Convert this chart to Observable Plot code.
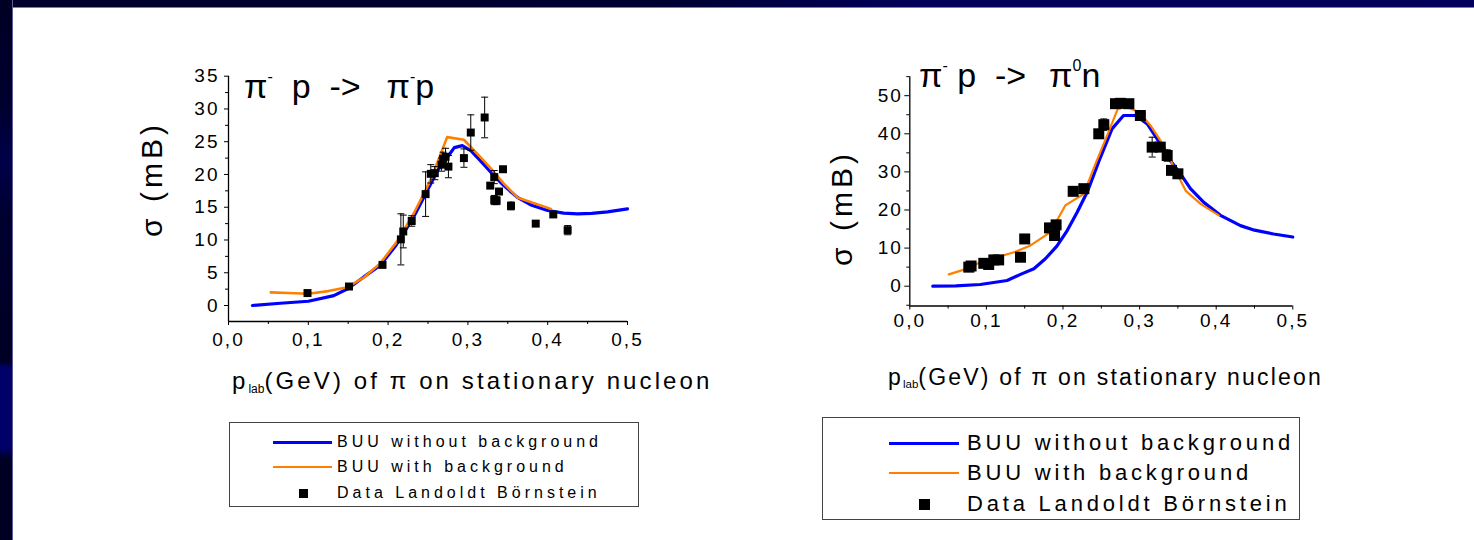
<!DOCTYPE html>
<html><head><meta charset="utf-8">
<script src="https://cdn.jsdelivr.net/npm/d3@7"></script>
<script src="https://cdn.jsdelivr.net/npm/@observablehq/plot@0.6"></script>
<style>
body{margin:0;background:#fff;}
#page{position:relative;width:1474px;height:540px;overflow:hidden;background:#fff;font-family:"Liberation Sans",Arial,sans-serif;color:#000;}
.topband{position:absolute;left:0;top:0;width:1474px;height:7px;background:linear-gradient(to right,#00002a 0%,#000032 45%,#00005a 62%,#00005c 100%);border-bottom:1px solid #7a7ab0;}
.leftband{position:absolute;left:0;top:0;width:12px;height:540px;background:linear-gradient(to bottom,#000024 0%,#000030 20%,#00004a 30%,#000030 40%,#000026 60%,#000026 67%,#000068 68%,#000068 83%,#000024 85%,#000022 100%);border-right:1px solid #5c5c94;}
.ylab{position:absolute;transform:translate(-50%,-50%) rotate(-90deg);white-space:nowrap;font-size:30px;letter-spacing:4px;line-height:1;}
.title{position:absolute;white-space:pre;font-size:34px;line-height:1;}
.title sup{font-size:16px;vertical-align:0;position:relative;top:-16px;}
.xlab{position:absolute;white-space:pre;line-height:1;}
.xlab sub{font-size:0.5em;vertical-align:0;position:relative;top:0.3em;letter-spacing:0;}
.legend{position:absolute;border:1px solid #444;background:#fff;}
.sw{position:absolute;}
.lt{position:absolute;white-space:pre;line-height:1;transform:translateY(-50%);}
</style>
</head><body><div id="page">
<div class="topband"></div><div class="leftband"></div>
</div>
<script>
// ---------- data ----------
const xTicks = [0, 0.1, 0.2, 0.3, 0.4, 0.5];
const xMinorTicks = [0.05, 0.15, 0.25, 0.35, 0.45];

// Left panel: pi- p -> pi- p
const leftYTicks = [0, 5, 10, 15, 20, 25, 30, 35];
const leftYMinor = [2.5, 7.5, 12.5, 17.5, 22.5, 27.5, 32.5];
const leftBlueX = [0.03,0.065,0.10,0.132,0.15,0.17,0.19,0.21,0.232,0.249,0.262,0.274,0.283,0.293,0.304,0.315,0.329,0.345,0.362,0.38,0.40,0.42,0.4375,0.455,0.475,0.50];
const leftBlueY = [0,0.35,0.65,1.5,2.6,4.4,6.1,9.2,13.5,17.5,20.6,22.6,24.1,24.4,23.6,22.2,20.3,18.3,16.5,15.3,14.5,14.1,14.0,14.05,14.3,14.75];
const leftOrangeX = [0.053,0.075,0.10,0.125,0.149,0.17,0.19,0.212,0.232,0.253,0.274,0.295,0.316,0.329,0.345,0.362,0.383,0.404];
const leftOrangeY = [2.0,1.9,1.8,2.2,2.8,4.3,6.4,9.9,14.0,19.1,25.7,25.3,22.6,20.9,18.6,16.5,15.6,14.75];
const leftDataX = [0.099,0.151,0.193,0.216,0.219,0.2296,0.247,0.2535,0.2585,0.267,0.269,0.272,0.2756,0.295,0.3036,0.321,0.328,0.333,0.333,0.336,0.339,0.344,0.354,0.385,0.407,0.425];
const leftDataY = [1.9,2.9,6.2,10.1,11.3,12.9,17.0,20.1,20.2,21.5,22.4,22.7,21.2,22.5,26.4,28.7,18.3,19.6,16.1,16.0,17.4,20.8,15.2,12.5,13.9,11.5];
const leftDataErr = [0,0,0,3.9,2.5,0.8,3.4,1.4,1.0,1.0,1.0,1.3,1.7,1.4,2.7,3.1,0,1.0,0.7,0.6,0,0,0.6,0,0,0.7];

// Right panel: pi- p -> pi0 n
const rightYTicks = [0, 10, 20, 30, 40, 50];
const rightYMinor = [-5, 5, 15, 25, 35, 45, 55];
const rightBlueX = [0.03,0.06,0.092,0.127,0.1445,0.162,0.177,0.192,0.2055,0.2185,0.2316,0.249,0.264,0.279,0.2946,0.31,0.327,0.34,0.3534,0.3664,0.3838,0.4056,0.4317,0.45,0.475,0.5];
const rightBlueY = [0,0.1,0.45,1.5,3.1,4.6,7.2,10.5,14.6,19.4,24.7,33.9,41.3,44.8,44.8,42.6,37.4,33,29.5,25.6,22,18.6,15.9,14.7,13.7,12.9];
const rightOrangeX = [0.051,0.075,0.092,0.114,0.136,0.1576,0.1837,0.203,0.227,0.2424,0.2577,0.2716,0.2838,0.299,0.3142,0.3316,0.3447,0.36,0.3795,0.4034];
const rightOrangeY = [3.1,4.6,6.3,7.6,8.9,10.7,14.2,21.2,24.2,32.1,39.6,46.6,47.0,45.7,42.2,36.9,31.2,25.1,21.6,18.6];
const rightDataX = [0.077,0.08,0.0966,0.103,0.1097,0.116,0.1445,0.15,0.1824,0.191,0.189,0.2133,0.2272,0.2467,0.2533,0.2685,0.275,0.286,0.301,0.3164,0.327,0.336,0.3416,0.35];
const rightDataY = [5.0,5.3,6.0,5.7,6.9,6.9,7.6,12.4,15.3,16.1,13.3,24.9,25.6,40.0,42.4,47.9,48.0,47.9,44.8,36.5,36.5,34.3,30.4,29.5];
const rightDataErr = [0,0,0,0,0,0,0,0,0,0,0,0,0,0,1.5,0,0,0,0,2.6,0,1.5,0,0];

const legendLabels = ["BUU without background", "BUU with background", "Data Landoldt Börnstein"];
const seriesColors = ["#0000ff", "#ff8000", "#000000"];

// ---------- helpers ----------
const zip = (xs, ys) => xs.map((x, i) => ({x, y: ys[i]}));
const zipE = (xs, ys, es) => xs.map((x, i) => ({x, y: ys[i], e: es[i]}));
const fmt = d => d.toFixed(1).replace(".", ",");
const cap = {draw(ctx, size) { const r = Math.sqrt(size / Math.PI); ctx.moveTo(-r, 0); ctx.lineTo(r, 0); }};

function panel(o) {
  const pts = zipE(o.dx, o.dy, o.de);
  const errs = pts.filter(d => d.e > 0);
  const fs = o.tickFont;
  return Plot.plot({
    width: o.width, height: o.height,
    marginLeft: o.ml, marginRight: o.mr, marginTop: o.mt, marginBottom: o.mb,
    style: {fontFamily: "'Liberation Sans', Arial, sans-serif", fontSize: fs + "px", letterSpacing: o.ls + "px", color: "#000", background: "transparent", overflow: "visible"},
    x: {domain: [0, 0.5]},
    y: {domain: o.yDomain},
    marks: [
      Plot.axisX({ticks: xTicks, tickFormat: fmt, tickSize: 4, tickPadding: o.xPad, label: null, fontSize: fs}),
      Plot.axisX({ticks: xMinorTicks, tickFormat: () => "", tickSize: 3, label: null}),
      Plot.axisY({ticks: o.yTicks, tickFormat: d => String(d), tickSize: o.yTickSize, tickPadding: o.yPad, label: null, fontSize: fs}),
      Plot.axisY({ticks: o.yMinor.filter(v => v >= o.yDomain[0] && v <= o.yDomain[1]), tickFormat: () => "", tickSize: 3, label: null}),
      Plot.ruleX([0], {stroke: "#000", strokeWidth: 1.3}),
      Plot.ruleY([o.yDomain[0]], {stroke: "#000", strokeWidth: 1.3}),
      Plot.line(zip(o.bx, o.by), {x: "x", y: "y", stroke: seriesColors[0], strokeWidth: o.blueW}),
      Plot.line(zip(o.ox, o.oy), {x: "x", y: "y", stroke: seriesColors[1], strokeWidth: o.orangeW}),
      Plot.ruleX(errs, {x: "x", y1: d => d.y - d.e, y2: d => d.y + d.e, stroke: "#000", strokeWidth: 1}),
      Plot.dot(errs, {x: "x", y: d => d.y - d.e, symbol: cap, r: 3.5, stroke: "#000", strokeWidth: 1, fill: "none"}),
      Plot.dot(errs, {x: "x", y: d => d.y + d.e, symbol: cap, r: 3.5, stroke: "#000", strokeWidth: 1, fill: "none"}),
      Plot.dot(pts, {x: "x", y: "y", symbol: "square", r: o.sq, fill: "#000", stroke: "none"})
    ]
  });
}

const page = document.getElementById("page");
function place(el, left, top) { el.style.position = "absolute"; el.style.left = left + "px"; el.style.top = top + "px"; page.appendChild(el); }

const left = panel({width: 520, height: 320, ml: 98, mr: 23, mt: 35.7, mb: 39,
  yDomain: [-2.44, 35], yTicks: leftYTicks, yMinor: leftYMinor, tickFont: 19, ls: 2, xPad: 7, yPad: 5, yTickSize: 4,
  bx: leftBlueX, by: leftBlueY, ox: leftOrangeX, oy: leftOrangeY, dx: leftDataX, dy: leftDataY, de: leftDataErr,
  blueW: 3.2, orangeW: 2.6, sq: 4.5});
place(left, 130, 40);

const right = panel({width: 500, height: 320, ml: 89.3, mr: 27.7, mt: 36.15, mb: 54.5,
  yDomain: [-5.2, 55], yTicks: rightYTicks, yMinor: rightYMinor, tickFont: 19, ls: 2, xPad: 3, yPad: 2, yTickSize: 5,
  bx: rightBlueX, by: rightBlueY, ox: rightOrangeX, oy: rightOrangeY, dx: rightDataX, dy: rightDataY, de: rightDataErr,
  blueW: 3.2, orangeW: 2.2, sq: 6.2});
place(right, 820, 40);

// ---------- text ----------
function html(cls, content, css) { const d = document.createElement("div"); d.className = cls; d.innerHTML = content; Object.assign(d.style, css); page.appendChild(d); return d; }

html("ylab", "σ (mB)", {left: "152px", top: "179px"});
html("ylab", "σ (mB)", {left: "842px", top: "208px"});

html("title", "π<sup>-</sup>  p  -><span style=\"margin-left:7px\"> </span> π<sup>-</sup>p", {left: "244px", top: "69px"});
html("title", "π<sup>-</sup> p  -> <span style=\"margin-left:4px\"></span> π<sup>0</sup>n", {left: "919px", top: "58px"});

html("xlab", "p<sub>lab</sub>(GeV) of π on stationary nucleon", {left: "232px", top: "369px", fontSize: "24px", letterSpacing: "3.1px"});
html("xlab", "p<sub>lab</sub>(GeV) of π on stationary nucleon", {left: "888px", top: "366px", fontSize: "23px", letterSpacing: "2.2px"});

// ---------- legends ----------
function legend(o) {
  const box = html("legend", "", {left: o.x + "px", top: o.y + "px", width: o.w + "px", height: o.h + "px"});
  legendLabels.forEach((lab, i) => {
    const cy = o.rowY[i] - o.y - 1;
    const s = document.createElement("div"); s.className = "sw";
    if (i < 2) {
      Object.assign(s.style, {left: (o.sx0 - o.x - 1) + "px", top: (cy - o.lw[i] / 2) + "px", width: (o.sx1 - o.sx0) + "px", height: o.lw[i] + "px", background: seriesColors[i]});
    } else {
      Object.assign(s.style, {left: (o.sqx - o.x - 1 - o.sq / 2) + "px", top: (cy - o.sq / 2) + "px", width: o.sq + "px", height: o.sq + "px", background: "#000"});
    }
    box.appendChild(s);
    const t = document.createElement("div"); t.className = "lt"; t.textContent = lab;
    Object.assign(t.style, {left: (o.tx - o.x - 1) + "px", top: cy + "px", fontSize: o.fs + "px", letterSpacing: o.ls + "px"});
    box.appendChild(t);
  });
}
legend({x: 229, y: 422, w: 408, h: 83, rowY: [442, 467, 493], sx0: 273, sx1: 332, sqx: 303, sq: 9, tx: 337, lw: [3, 2.5], fs: 16, ls: 4.0});
legend({x: 822, y: 417, w: 476, h: 101, rowY: [443, 473, 504], sx0: 889, sx1: 959, sqx: 924, sq: 11, tx: 967, lw: [3, 2.2], fs: 22, ls: 3.8});
</script>
</body></html>
